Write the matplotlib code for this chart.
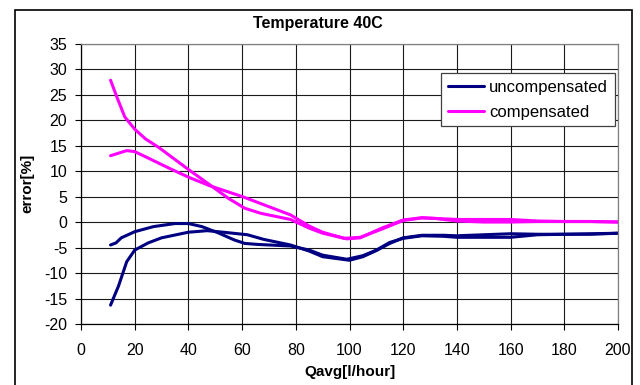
import matplotlib
matplotlib.use("Agg")
import matplotlib.pyplot as plt
from matplotlib.patches import Rectangle

plt.rcParams["font.family"] = ["Liberation Sans", "DejaVu Sans"]
plt.rcParams["axes.unicode_minus"] = False

# uncompensated, run 1
unc1_x = [11, 13, 15, 20, 27, 35, 40, 45, 51, 57, 61, 66, 78, 85, 90, 99, 105, 110, 115, 120,
          127, 135, 140, 150, 160, 170, 180, 190, 200]
unc1_y = [-4.5, -4.1, -3.1, -1.9, -0.9, -0.3, -0.3, -0.9, -2.1, -3.5, -4.2, -4.4, -4.7, -5.5, -6.5,
          -7.3, -6.6, -5.5, -4.0, -3.2, -2.7, -2.8, -3.0, -3.0, -3.0, -2.5, -2.4, -2.4, -2.2]

# uncompensated, run 2
unc2_x = [11, 14, 17, 20, 25, 30, 40, 47, 53, 62, 68, 78, 85, 90, 100, 105, 110, 115, 120, 127,
          135, 140, 150, 160, 170, 180, 190, 200]
unc2_y = [-16.3, -12.5, -7.8, -5.5, -4.1, -3.1, -2.0, -1.7, -2.0, -2.5, -3.4, -4.5, -5.7, -6.8,
          -7.5, -6.8, -5.6, -4.2, -3.1, -2.6, -2.6, -2.7, -2.5, -2.3, -2.4, -2.4, -2.3, -2.2]

# compensated, run 1
comp1_x = [11, 13.5, 16.3, 20, 24, 29, 40, 49, 55, 61, 67, 78, 85, 90, 99, 104, 112, 120, 127,
           132, 140, 150, 160, 170, 180, 190, 200]
comp1_y = [27.8, 24.3, 20.6, 18.2, 16.3, 14.6, 10.3, 6.9, 4.6, 2.7, 1.7, 0.5, -1.2, -2.2, -3.3,
           -3.1, -1.2, 0.4, 0.85, 0.7, 0.5, 0.5, 0.5, 0.2, 0.1, 0.1, 0.0]

# compensated, run 2
comp2_x = [11, 17, 20, 24, 33, 40, 48, 60, 70, 78, 85, 90, 98, 104, 112, 120, 127, 132, 140,
           150, 160, 170, 180, 190, 200]
comp2_y = [13.0, 14.0, 13.8, 12.8, 10.5, 8.8, 7.1, 5.0, 3.0, 1.4, -0.8, -2.0, -3.2, -3.0, -1.4,
           0.3, 0.8, 0.7, 0.2, 0.0, 0.0, 0.1, 0.1, 0.1, 0.0]

x_ticks = list(range(0, 201, 20))
y_ticks = list(range(-20, 36, 5))

navy = "#000080"
magenta = "#FF00FF"

fig = plt.figure(figsize=(6.4, 3.85), dpi=100)
ax = fig.add_axes([0.1266, 0.1584, 0.839, 0.7286])

ax.plot(unc1_x, unc1_y, color=navy, lw=2.2, label="uncompensated", solid_capstyle="round")
ax.plot(unc2_x, unc2_y, color=navy, lw=2.2, label="_nolegend_", solid_capstyle="round")
ax.plot(comp1_x, comp1_y, color=magenta, lw=2.2, label="compensated", solid_capstyle="round")
ax.plot(comp2_x, comp2_y, color=magenta, lw=2.2, label="_nolegend_", solid_capstyle="round")

ax.set_xlim(0, 200)
ax.set_ylim(-20, 35)
ax.set_xticks(x_ticks)
ax.set_yticks(y_ticks)
ax.grid(True, color="#1a1a1a", lw=0.8)
ax.set_axisbelow(True)
ax.tick_params(direction="out", length=4, width=0.8, labelsize=11.5)
ax.tick_params(axis="x", pad=10)
ax.tick_params(axis="y", pad=6)

for side in ["left", "bottom"]:
    ax.spines[side].set_color("black")
    ax.spines[side].set_linewidth(0.9)
for side in ["top", "right"]:
    ax.spines[side].set_color("#808080")
    ax.spines[side].set_linewidth(0.9)

ax.set_xlabel("Qavg[l/hour]", fontsize=11, fontweight="bold")
ax.set_ylabel("error[%]", fontsize=11, fontweight="bold")
ax.xaxis.set_label_coords(0.5, -0.146)
ax.yaxis.set_label_coords(-0.087, 0.5)
fig.text(0.497, 0.938, "Temperature 40C", ha="center", va="center", fontsize=11.5,
         fontweight="bold")

leg = ax.legend(loc="upper right", bbox_to_anchor=(0.994, 0.895), fontsize=12,
                frameon=True, fancybox=False, handlelength=2.2, borderpad=0.4,
                labelspacing=0.6, handletextpad=0.3, borderaxespad=0)
leg.get_frame().set_edgecolor("#404040")
leg.get_frame().set_linewidth(0.9)
leg.get_frame().set_alpha(1)

fig.patches.append(Rectangle((15 / 640, -0.05), (632 - 15) / 640, 1.05 - 10 / 385,
                             transform=fig.transFigure, fill=False, edgecolor="black",
                             lw=1.2, clip_on=False))

fig.savefig("out.png", dpi=100)
